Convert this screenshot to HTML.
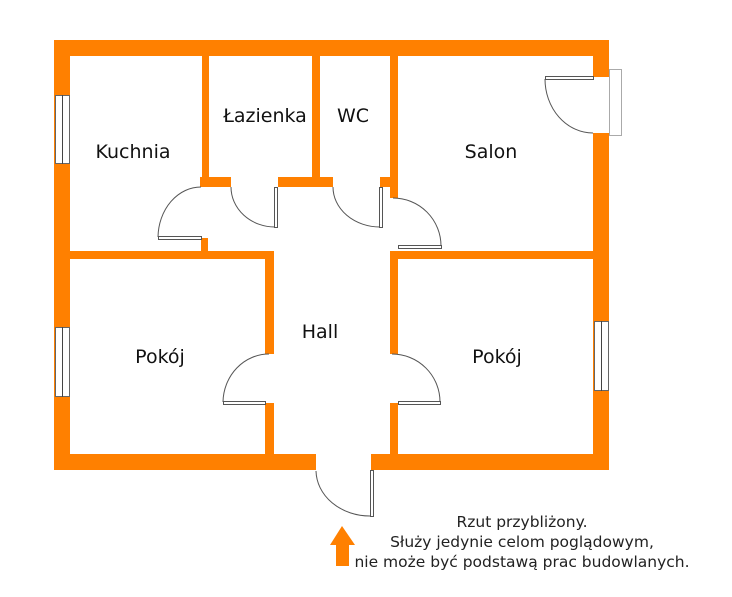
<!DOCTYPE html>
<html><head><meta charset="utf-8"><style>
html,body{margin:0;padding:0;background:#fff;width:732px;height:597px;overflow:hidden}
svg{display:block}
.l{font-family:"DejaVu Sans","Liberation Sans",sans-serif;font-size:19px;fill:#111}
.n{font-family:"DejaVu Sans","Liberation Sans",sans-serif;font-size:15.5px;fill:#222}
</style></head><body>
<svg width="732" height="597" viewBox="0 0 732 597" xmlns="http://www.w3.org/2000/svg">
<g fill="#ff8000">
<rect x="54" y="40" width="555" height="16"/>
<rect x="54" y="40" width="16" height="430"/>
<rect x="593" y="40" width="16" height="37"/>
<rect x="593" y="133" width="16" height="337"/>
<rect x="54" y="454" width="262" height="16"/>
<rect x="371" y="454" width="238" height="16"/>
<rect x="202" y="56" width="7" height="130"/>
<rect x="312" y="56" width="8" height="130"/>
<rect x="390" y="56" width="8" height="142"/>
<rect x="200" y="177" width="31" height="10"/>
<rect x="278" y="177" width="55" height="10"/>
<rect x="380" y="177" width="14" height="10"/>
<rect x="54" y="251" width="219" height="8"/>
<rect x="201" y="238" width="7" height="14"/>
<rect x="265" y="251" width="9" height="103"/>
<rect x="265" y="403" width="9" height="52"/>
<rect x="390" y="251" width="219" height="8"/>
<rect x="390" y="251" width="8" height="103"/>
<rect x="390" y="403" width="8" height="52"/>
<polygon points="342,526 355,545 349,545 349,566 336,566 336,545 330,545"/>
</g>
<g fill="#fff" stroke="#666" stroke-width="1">
<rect x="55.5" y="95.5" width="14" height="68"/>
<rect x="55.5" y="327.5" width="14" height="69"/>
<rect x="594.5" y="321.5" width="14" height="69"/>
<rect x="609.5" y="69.5" width="12" height="66" stroke="#aaa"/>
</g>
<g stroke="#444" stroke-width="1">
<line x1="62.5" y1="95" x2="62.5" y2="164"/>
<line x1="62.5" y1="327" x2="62.5" y2="397"/>
<line x1="601.5" y1="321" x2="601.5" y2="391"/>
</g>
<g fill="#fff" stroke="#555" stroke-width="1">
<rect x="158.5" y="236.5" width="43" height="3"/>
<rect x="274.5" y="187.5" width="3" height="40"/>
<rect x="379.5" y="187.5" width="3" height="40"/>
<rect x="223.5" y="401.5" width="42" height="3"/>
<rect x="398.5" y="401.5" width="42" height="3"/>
<rect x="398.5" y="245.5" width="43" height="3"/>
<rect x="370.5" y="470.5" width="3" height="46"/>
<rect x="545.5" y="76.5" width="48" height="3"/>
</g>
<g fill="none" stroke="#555" stroke-width="1">
<path d="M158,237 A43,51 0 0 1 201,187"/>
<path d="M231,187 A44,40 0 0 0 275,227"/>
<path d="M333,187 A47,40 0 0 0 380,227"/>
<path d="M223,402 A46,49 0 0 1 269,354"/>
<path d="M392,354 A48,48 0 0 1 440,402"/>
<path d="M393,198 A48,48 0 0 1 441,246"/>
<path d="M316,471 A54,46 0 0 0 370,516"/>
<path d="M545,79 A48,54 0 0 0 593,133"/>
</g>
<text class="l" x="133" y="158" text-anchor="middle">Kuchnia</text>
<text class="l" x="265" y="122" text-anchor="middle">Łazienka</text>
<text class="l" x="353" y="122" text-anchor="middle">WC</text>
<text class="l" x="491" y="158" text-anchor="middle">Salon</text>
<text class="l" x="320" y="338" text-anchor="middle">Hall</text>
<text class="l" x="160" y="363" text-anchor="middle">Pokój</text>
<text class="l" x="497" y="363" text-anchor="middle">Pokój</text>
<text class="n" x="522" y="527" text-anchor="middle">Rzut przybliżony.</text>
<text class="n" x="522" y="547" text-anchor="middle">Służy jedynie celom poglądowym,</text>
<text class="n" x="522" y="567" text-anchor="middle">nie może być podstawą prac budowlanych.</text>
</svg>
</body></html>
